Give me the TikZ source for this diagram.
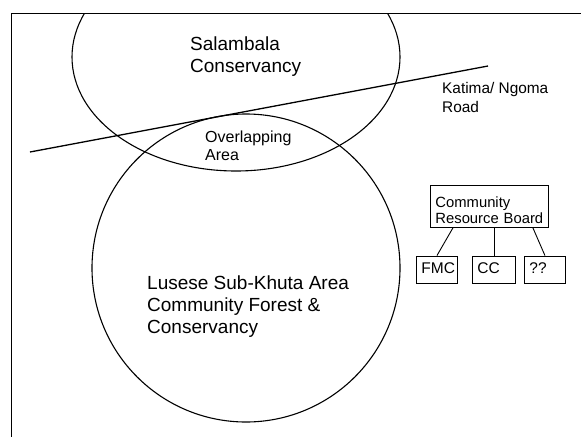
\documentclass[tikz,border=0pt]{standalone}
\usepackage{fontspec}
\setmainfont{Liberation Sans}
\usetikzlibrary{calc}
\tikzset{
  outline/.style={line width=1pt, black},
  area/.style={line width=1.1pt, black},
  lbl/.style={anchor=base west, inner sep=0pt, align=left},
  board/.style={draw, line width=0.9pt, inner xsep=5pt, inner ysep=0pt, align=left,
    text width=108pt, anchor=base west,
    font=\fontsize{14.8}{16}\selectfont},
  smallbox/.style={draw, line width=0.9pt, inner xsep=5pt, inner ysep=0pt, align=left,
    text height=17pt, text depth=10pt, anchor=base west,
    font=\fontsize{15.5}{17}\selectfont},
  link/.style={line width=0.9pt}
}
\begin{document}
\begin{tikzpicture}[x=1pt,y=-1pt]
\useasboundingbox (0,0) rectangle (581,437);
% frame
\draw[outline] (581,13) -- (11,13) -- (11,437);
% areas
\begin{scope}
  \clip (11,13) rectangle (581,437);
  \draw[area] (236,57) ellipse [x radius=164, y radius=114];
\end{scope}
\draw[area] (246,268) circle [radius=154];
% road
\coordinate (roadA) at (30,152);
\coordinate (roadB) at (488,66);
\draw[line width=1.3pt] (roadA) -- (roadB);
% labels (anchored at the baseline of the last line)
\node[lbl, font=\fontsize{19}{22}\selectfont] (sal) at (190,72) {Salambala\\Conservancy};
\node[lbl, font=\fontsize{15.4}{19}\selectfont] (road) at (442,112) {Katima/ Ngoma\\Road};
\node[lbl, font=\fontsize{16}{18}\selectfont] (ovl) at (205,160) {Overlapping\\Area};
\node[lbl, font=\fontsize{19}{22}\selectfont] (lus) at (147,333) {Lusese Sub-Khuta Area\\Community Forest \&\\Conservancy};
% board (anchored at the baseline of its first line)
\node[board] (crb) at (430,207) {\rule{0pt}{22pt}Community\\Resource Board\rule[-4pt]{0pt}{4pt}};
\node[smallbox, text width=31pt] (fmc) at (416,273) {FMC};
\node[smallbox, text width=33pt] (cc) at (472,273) {CC};
\node[smallbox, text width=31pt] (qq) at (524,273) {??};
\draw[link] ($(crb.south west)!0.195!(crb.south east)$) -- (fmc.north);
\draw[link] (cc.north) -- (cc.north |- crb.south);
\draw[link] ($(crb.south west)!0.864!(crb.south east)$) -- (qq.north);
\end{tikzpicture}
\end{document}
